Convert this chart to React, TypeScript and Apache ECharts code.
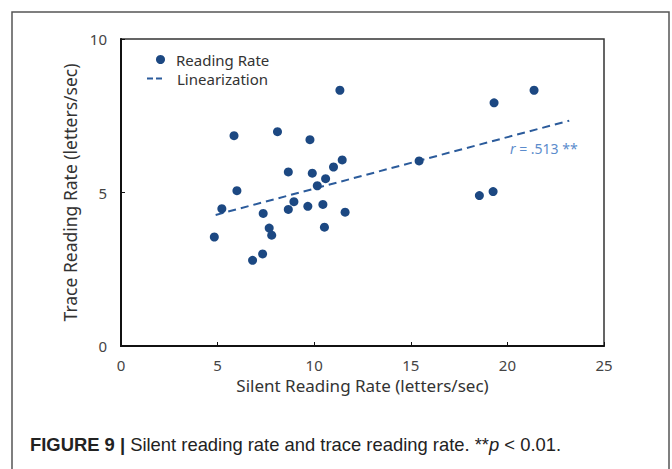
import React, { useEffect, useRef } from "react";
import * as echarts from "echarts";

const readingRate: [number, number][] = [
  [11.33, 8.33], [5.85, 6.85], [8.1, 6.98], [9.78, 6.72], [8.66, 5.67],
  [9.9, 5.63], [10.59, 5.45], [11.0, 5.83], [11.45, 6.06], [10.16, 5.22],
  [6.0, 5.06], [5.22, 4.47], [8.95, 4.7], [7.36, 4.32], [8.66, 4.45],
  [9.67, 4.55], [10.45, 4.61], [11.6, 4.36], [7.67, 3.84], [7.8, 3.61],
  [10.53, 3.87], [4.83, 3.55], [7.33, 3.0], [6.81, 2.79], [21.38, 8.33],
  [19.31, 7.92], [15.43, 6.03], [18.55, 4.9], [19.26, 5.03],
];
const linearization: [number, number][] = [
  [4.9, 4.27],
  [23.2, 7.34],
];
const xRange = [0, 25];
const yRange = [0, 10];
const xLabel = "Silent Reading Rate (letters/sec)";
const yLabel = "Trace Reading Rate (letters/sec)";
const seriesNames = ["Reading Rate", "Linearization"];
const corrText = ".513 **";

const FONT = "'Noto Sans', 'DejaVu Sans', sans-serif";
const CAP = "'Liberation Sans', Arial, sans-serif";

export default function App() {
  const ref = useRef<HTMLDivElement>(null);
  useEffect(() => {
    if (!ref.current) return;
    const chart = echarts.init(ref.current, undefined, { renderer: "svg" });
    const legendText = { fontFamily: FONT, fontSize: 15, color: "#333" };
    chart.setOption({
      animation: false,
      backgroundColor: "#ffffff",
      textStyle: { fontFamily: FONT },
      grid: {
        left: 121,
        top: 39,
        right: 68,
        bottom: 123,
        show: true,
        borderColor: "#333",
        borderWidth: 1.5,
        backgroundColor: "transparent",
      },
      legend: [
        {
          left: 156,
          top: 52,
          itemWidth: 9,
          itemHeight: 9,
          padding: 0,
          textStyle: { ...legendText, padding: [0, 0, 0, 6] },
          data: [{ name: seriesNames[0], icon: "circle" }],
        },
        {
          left: 147,
          top: 71,
          itemWidth: 15,
          itemHeight: 2.5,
          padding: 0,
          textStyle: { ...legendText, padding: [0, 0, 0, 10] },
          data: [
            { name: seriesNames[1], icon: "path://M0,0H6V2H0Z M9,0H15V2H9Z" },
          ],
        },
      ],
      xAxis: {
        type: "value",
        min: xRange[0],
        max: xRange[1],
        interval: 5,
        name: xLabel,
        nameLocation: "middle",
        nameGap: 31,
        nameTextStyle: { fontFamily: FONT, fontSize: 17, color: "#333" },
        axisLine: { show: true, lineStyle: { color: "#111", width: 2 } },
        axisTick: { show: true, inside: true, length: 4, lineStyle: { color: "#111" } },
        axisLabel: { fontFamily: FONT, fontSize: 15, color: "#444", margin: 11 },
        splitLine: { show: false },
      },
      yAxis: {
        type: "value",
        min: yRange[0],
        max: yRange[1],
        interval: 5,
        name: yLabel,
        nameLocation: "middle",
        nameGap: 42,
        nameTextStyle: { fontFamily: FONT, fontSize: 17.5, color: "#333" },
        axisLine: { show: true, lineStyle: { color: "#111", width: 2 } },
        axisTick: { show: true, inside: true, length: 4, lineStyle: { color: "#111" } },
        axisLabel: { fontFamily: FONT, fontSize: 15, color: "#444", margin: 14 },
        splitLine: { show: false },
      },
      series: [
        {
          name: seriesNames[0],
          type: "scatter",
          data: readingRate,
          symbol: "circle",
          symbolSize: 9,
          itemStyle: { color: "#1c4882", opacity: 1 },
          z: 3,
        },
        {
          name: seriesNames[1],
          type: "line",
          data: linearization,
          showSymbol: false,
          symbol: "none",
          lineStyle: { color: "#2b5b9b", width: 2, type: [8, 5] },
          itemStyle: { color: "#2b5b9b" },
          z: 2,
        },
      ],
      graphic: [
        {
          type: "rect",
          shape: { x: 12, y: 12, width: 657, height: 500 },
          style: { fill: "none", stroke: "#555", lineWidth: 1.5 },
          silent: true,
        },
        {
          type: "text",
          x: 510,
          y: 148,
          style: {
            text: "{i|r} = " + corrText,
            fill: "#5b8ccc",
            fontSize: 14,
            fontFamily: FONT,
            verticalAlign: "middle",
            rich: {
              i: { fontStyle: "italic", fill: "#5b8ccc", fontSize: 14, fontFamily: FONT },
            },
          },
        },
        {
          type: "text",
          x: 30,
          y: 444,
          style: {
            text:
              "{b|FIGURE 9 |} Silent reading rate and trace reading rate. **{i|p} < 0.01.",
            fill: "#222",
            fontSize: 18.4,
            fontFamily: CAP,
            verticalAlign: "middle",
            rich: {
              b: { fontWeight: "bold", fill: "#222", fontSize: 18.4, fontFamily: CAP },
              i: { fontStyle: "italic", fill: "#222", fontSize: 18.4, fontFamily: CAP },
            },
          },
        },
      ],
    });
    return () => chart.dispose();
  }, []);
  return (
    <div
      ref={ref}
      style={{ position: "fixed", left: 0, top: 0, width: 672, height: 469 }}
    />
  );
}
